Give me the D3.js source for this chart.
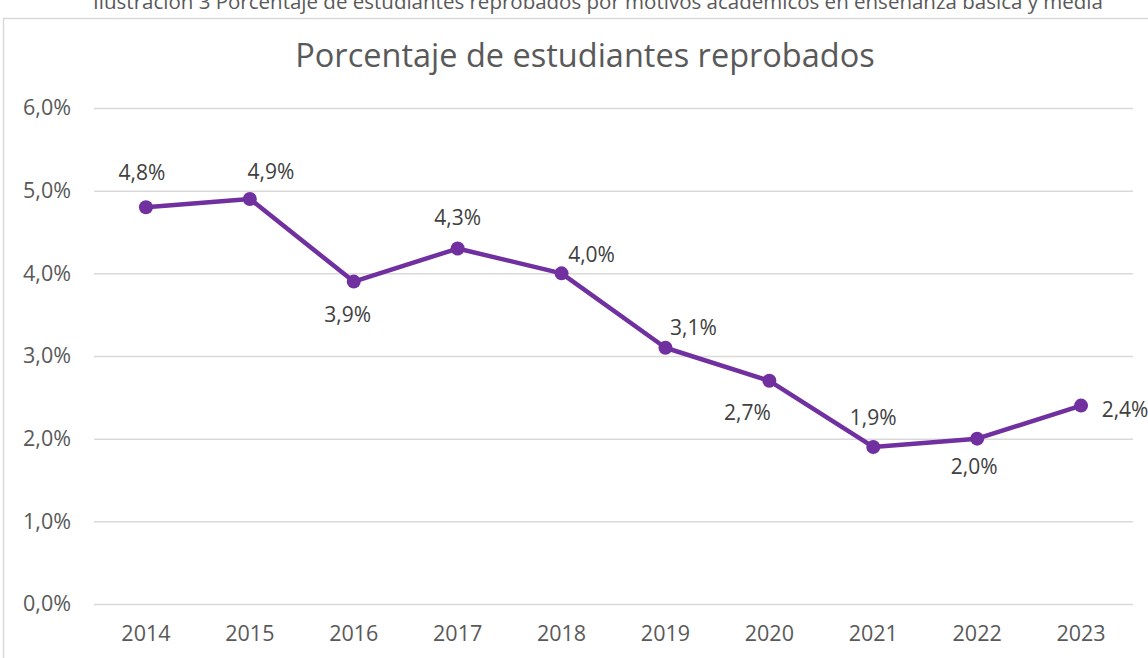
<!DOCTYPE html>
<html>
<head>
<meta charset="utf-8">
<script src="https://cdn.jsdelivr.net/npm/d3@7"></script>
<style>
  body { margin: 0; background: #fff; }
  svg { display: block; font-family: "Open Sans", Lato, sans-serif; }
</style>
</head>
<body>
<div id="chart"></div>
<script>
// data
let years = ["2014", "2015", "2016", "2017", "2018", "2019", "2020", "2021", "2022", "2023"];
let pct = [4.8, 4.9, 3.9, 4.3, 4.0, 3.1, 2.7, 1.9, 2.0, 2.4];
let yTicks = [0, 1, 2, 3, 4, 5, 6];
// label placement (dx, dy from point), like the manual placement in the original
let labelOffsets = [[-4, -35], [21, -27], [-6, 33], [0, -31], [30, -19], [28, -20], [-22, 32], [0, -29], [-3, 28], [44, 4]];

let W = 1148, H = 658;
let margin = { top: 108, right: 15, bottom: 54, left: 94 },
    width = W - margin.left - margin.right,
    height = H - margin.top - margin.bottom;

let fmt = v => v.toFixed(1).replace(".", ",") + "%";

let svg = d3.select("#chart").append("svg")
    .attr("width", W)
    .attr("height", H);

// caption, cut off at the top like in the source document
svg.append("text")
    .attr("x", 598)
    .attr("y", 9)
    .attr("text-anchor", "middle")
    .style("font-size", "20.5px")
    .style("fill", "#595959")
    .text("Ilustración 3 Porcentaje de estudiantes reprobados por motivos académicos en enseñanza básica y media");

// chart border
svg.append("rect")
    .attr("x", 3.5).attr("y", 18.5)
    .attr("width", 1200).attr("height", 700)
    .attr("fill", "#fff")
    .attr("stroke", "#d9d9d9")
    .attr("stroke-width", 1.5);

// title
svg.append("text")
    .attr("x", 585)
    .attr("y", 67)
    .attr("text-anchor", "middle")
    .style("font-size", "32.5px")
    .style("fill", "#595959")
    .text("Porcentaje de estudiantes reprobados");

let g = svg.append("g")
    .attr("transform", "translate(" + margin.left + "," + margin.top + ")");

let x = d3.scaleBand().domain(years).range([0, width]);
let y = d3.scaleLinear().domain([0, 6]).range([height, 0]);

// grid lines + y labels
let yAxis = g.append("g")
    .call(d3.axisLeft(y).tickValues(yTicks).tickSize(-width).tickFormat(fmt).tickPadding(23));
yAxis.select(".domain").remove();
yAxis.selectAll("line").attr("stroke", "#d9d9d9").attr("stroke-width", 1.5);
yAxis.selectAll("text")
    .style("font-size", "21.5px")
    .style("fill", "#595959")
    .style("font-family", "'Open Sans', sans-serif");

// x axis labels
let xAxis = g.append("g")
    .attr("transform", "translate(0," + height + ")")
    .call(d3.axisBottom(x).tickSize(0).tickPadding(22));
xAxis.select(".domain").remove();
xAxis.selectAll("text")
    .style("font-size", "21.5px")
    .style("fill", "#595959")
    .style("font-family", "'Open Sans', sans-serif");

let cx = (d, i) => x(years[i]) + x.bandwidth() / 2;

// line
let line = d3.line()
    .x((d, i) => cx(d, i))
    .y(d => y(d));

g.append("path")
    .datum(pct)
    .attr("fill", "none")
    .attr("stroke", "#7030a0")
    .attr("stroke-width", 4.5)
    .attr("stroke-linejoin", "round")
    .attr("d", line);

// markers
g.selectAll(".dot")
    .data(pct)
    .enter()
    .append("circle")
    .attr("class", "dot")
    .attr("cx", cx)
    .attr("cy", d => y(d))
    .attr("r", 7)
    .attr("fill", "#7030a0");

// data labels
g.selectAll(".lbl")
    .data(pct)
    .enter()
    .append("text")
    .attr("class", "lbl")
    .attr("x", (d, i) => cx(d, i) + labelOffsets[i][0])
    .attr("y", (d, i) => y(d) + labelOffsets[i][1])
    .attr("dy", "0.35em")
    .attr("text-anchor", "middle")
    .style("font-size", "21px")
    .style("fill", "#404040")
    .text(fmt);
</script>
</body>
</html>
